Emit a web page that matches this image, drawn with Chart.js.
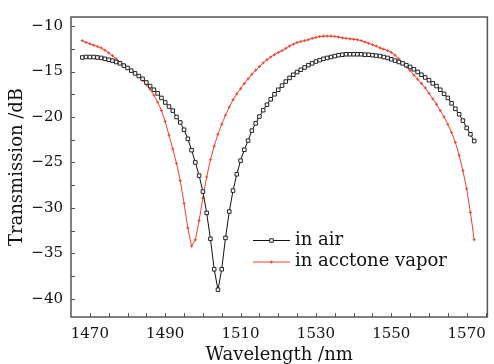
<!DOCTYPE html>
<html lang="en">
<head>
    <meta charset="UTF-8">
    <title>Transmission spectrum</title>
    <script src="https://cdn.jsdelivr.net/npm/chart.js@4.4.1/dist/chart.umd.js"></script>
    <style>
        html, body { margin: 0; padding: 0; background: #fff; }
        #wrap { width: 494px; height: 364px; }
    </style>
</head>
<body>
    <div id="wrap"><canvas id="chart" width="494" height="364"></canvas></div>

    <script>
        // wavelength in nm, one point per nm
        const wavelength = [
            1468, 1469, 1470, 1471, 1472, 1473, 1474, 1475, 1476, 1477,
            1478, 1479, 1480, 1481, 1482, 1483, 1484, 1485, 1486, 1487,
            1488, 1489, 1490, 1491, 1492, 1493, 1494, 1495, 1496, 1497,
            1498, 1499, 1500, 1501, 1502, 1503, 1504, 1505, 1506, 1507,
            1508, 1509, 1510, 1511, 1512, 1513, 1514, 1515, 1516, 1517,
            1518, 1519, 1520, 1521, 1522, 1523, 1524, 1525, 1526, 1527,
            1528, 1529, 1530, 1531, 1532, 1533, 1534, 1535, 1536, 1537,
            1538, 1539, 1540, 1541, 1542, 1543, 1544, 1545, 1546, 1547,
            1548, 1549, 1550, 1551, 1552, 1553, 1554, 1555, 1556, 1557,
            1558, 1559, 1560, 1561, 1562, 1563, 1564, 1565, 1566, 1567,
            1568, 1569, 1570, 1571, 1572
        ];

        // transmission in dB, in air
        const inAir = [
            -13.45, -13.4, -13.4, -13.4, -13.45, -13.5, -13.6, -13.7, -13.8, -13.95,
            -14.1, -14.35, -14.6, -14.9, -15.2, -15.5, -15.8, -16.2, -16.6, -17.0,
            -17.4, -17.9, -18.4, -18.85, -19.3, -20.0, -20.6, -21.4, -22.4, -23.65,
            -25.0, -26.45, -28.2, -30.55, -33.4, -36.75, -39.0, -36.75, -33.3, -30.4,
            -28.1, -26.3, -24.8, -23.6, -22.6, -21.5, -20.7, -19.95, -19.25, -18.65,
            -18.05, -17.5, -17.0, -16.55, -16.1, -15.7, -15.35, -15.05, -14.8, -14.55,
            -14.3, -14.1, -13.9, -13.75, -13.6, -13.5, -13.4, -13.3, -13.2, -13.15,
            -13.1, -13.1, -13.1, -13.1, -13.1, -13.15, -13.15, -13.2, -13.25, -13.3,
            -13.4, -13.5, -13.65, -13.8, -13.95, -14.1, -14.3, -14.5, -14.75, -15.05,
            -15.35, -15.65, -15.95, -16.3, -16.6, -17.0, -17.45, -17.9, -18.5, -19.1,
            -19.7, -20.4, -21.2, -21.9, -22.65
        ];

        // transmission in dB, in acetone vapor
        const inVapor = [
            -11.6, -11.8, -11.95, -12.1, -12.25, -12.4, -12.65, -12.95, -13.25, -13.6,
            -13.95, -14.25, -14.55, -14.85, -15.2, -15.55, -15.95, -16.45, -16.95, -17.6,
            -18.35, -19.3, -20.5, -22.0, -23.5, -25.1, -27.0, -29.5, -32.2, -34.2,
            -33.5, -31.4, -28.9, -26.6, -24.7, -23.2, -21.9, -20.8, -19.8, -18.9,
            -18.1, -17.45, -16.9, -16.3, -15.8, -15.3, -14.85, -14.45, -14.05, -13.7,
            -13.4, -13.15, -12.9, -12.7, -12.45, -12.2, -12.0, -11.8, -11.7, -11.6,
            -11.5, -11.35, -11.25, -11.15, -11.1, -11.1, -11.1, -11.15, -11.2, -11.3,
            -11.35, -11.4, -11.45, -11.5, -11.6, -11.75, -11.9, -12.05, -12.2, -12.4,
            -12.55, -12.7, -12.9, -13.2, -13.6, -14.05, -14.5, -14.9, -15.4, -15.85,
            -16.3, -16.8, -17.4, -18.0, -18.6, -19.3, -20.0, -20.8, -21.7, -22.8,
            -24.2, -25.9, -27.9, -30.5, -33.5
        ];

        const seriesLabels = ['in air', 'in acctone vapor'];

        const xTickLabels = [1470, 1490, 1510, 1530, 1550, 1570];
        const yTickLabels = [-10, -15, -20, -25, -30, -35, -40];
        // inward tick marks (labelled and unlabelled)
        const xTickMarks = [1470, 1475, 1480, 1485, 1490, 1495, 1500, 1505, 1510, 1515, 1520,
            1525, 1530, 1535, 1540, 1545, 1550, 1555, 1560, 1565, 1570, 1575];
        const yTickMarks = [-10, -12.5, -15, -17.5, -20, -22.5, -25, -27.5, -30, -32.5,
            -35, -37.5, -40];

        const serif = 'DejaVu Serif';
        const axisColor = '#555';

        // frame and inward ticks, drawn under the curves
        const frameTicks = {
            id: 'frameTicks',
            beforeDatasetsDraw(chart) {
                const { ctx, chartArea: a, scales: { x, y } } = chart;
                ctx.save();
                ctx.strokeStyle = axisColor;
                ctx.lineWidth = 1;
                ctx.beginPath();
                xTickMarks.forEach(v => {
                    const px = Math.round(x.getPixelForValue(v)) + 0.5;
                    ctx.moveTo(px, a.bottom);
                    ctx.lineTo(px, a.bottom - 4);
                });
                yTickMarks.forEach(v => {
                    const py = Math.round(y.getPixelForValue(v)) + 0.5;
                    ctx.moveTo(a.left, py);
                    ctx.lineTo(a.left + 4, py);
                });
                ctx.stroke();
                ctx.lineWidth = 1.5;
                ctx.strokeRect(a.left, a.top, a.right - a.left, a.bottom - a.top);
                ctx.restore();
            }
        };

        // legend inside the plot, below the dip
        const innerLegend = {
            id: 'innerLegend',
            afterDraw(chart) {
                const ctx = chart.ctx;
                const x0 = 253, x1 = 290, textX = 295;
                const rows = [240, 261.5];
                ctx.save();
                chart.data.datasets.forEach((ds, i) => {
                    const yy = rows[i];
                    ctx.strokeStyle = ds.borderColor;
                    ctx.lineWidth = 1;
                    ctx.beginPath();
                    ctx.moveTo(x0, yy + 0.5);
                    ctx.lineTo(x1, yy + 0.5);
                    ctx.stroke();
                    ctx.fillStyle = ds.pointBackgroundColor;
                    ctx.strokeStyle = ds.pointBorderColor;
                    ctx.lineWidth = ds.pointBorderWidth;
                    Chart.helpers.drawPoint(ctx, {
                        pointStyle: ds.pointStyle,
                        radius: ds.pointRadius,
                        rotation: 0,
                        borderWidth: ds.pointBorderWidth
                    }, (x0 + x1) / 2, yy + 0.5);
                    ctx.fillStyle = '#111';
                    ctx.font = '18px "' + serif + '"';
                    ctx.textBaseline = 'middle';
                    ctx.textAlign = 'left';
                    ctx.fillText(ds.label, textX, yy);
                });
                ctx.restore();
            }
        };

        const toPoints = vals => vals.map((v, i) => ({ x: wavelength[i], y: v }));

        new Chart(document.getElementById('chart'), {
            type: 'line',
            data: {
                datasets: [
                    {
                        label: seriesLabels[0],
                        data: toPoints(inAir),
                        borderColor: '#111',
                        borderWidth: 1,
                        pointStyle: 'rect',
                        pointRadius: 2.5,
                        pointBorderWidth: 1,
                        pointBorderColor: '#222',
                        pointBackgroundColor: '#fff',
                        tension: 0
                    },
                    {
                        label: seriesLabels[1],
                        data: toPoints(inVapor),
                        borderColor: '#f0412f',
                        borderWidth: 1,
                        pointStyle: 'cross',
                        pointRadius: 1.5,
                        pointBorderWidth: 1,
                        pointBorderColor: '#f0412f',
                        pointBackgroundColor: '#f0412f',
                        tension: 0
                    }
                ]
            },
            options: {
                responsive: false,
                animation: false,
                events: [],
                layout: { padding: { top: 11, right: 5, left: 0, bottom: 0 } },
                plugins: {
                    legend: { display: false },
                    tooltip: { enabled: false }
                },
                scales: {
                    x: {
                        type: 'linear',
                        min: 1465,
                        max: 1575.5,
                        grid: { display: false, drawTicks: false },
                        border: { display: false },
                        afterBuildTicks: s => { s.ticks = xTickLabels.map(v => ({ value: v })); },
                        afterFit: s => { s.height = 47; },
                        ticks: {
                            padding: 8,
                            color: '#111',
                            maxRotation: 0,
                            font: { family: serif, size: 15 },
                            callback: v => String(v)
                        },
                        title: {
                            display: true,
                            text: 'Wavelength /nm',
                            color: '#111',
                            padding: { top: 0, bottom: 0 },
                            font: { family: serif, size: 18, lineHeight: 1 }
                        }
                    },
                    y: {
                        type: 'linear',
                        min: -42,
                        max: -9,
                        grid: { display: false, drawTicks: false },
                        border: { display: false },
                        afterBuildTicks: s => { s.ticks = yTickLabels.map(v => ({ value: v })); },
                        afterFit: s => { s.width = 71; },
                        ticks: {
                            padding: 8,
                            color: '#111',
                            font: { family: serif, size: 15 },
                            callback: v => (v < 0 ? '\u2212' : '') + Math.abs(v)
                        },
                        title: {
                            display: true,
                            text: 'Transmission /dB',
                            color: '#111',
                            padding: { top: 8, bottom: 0 },
                            font: { family: serif, size: 18, lineHeight: 1 }
                        }
                    }
                }
            },
            plugins: [frameTicks, innerLegend]
        });
    </script>
</body>
</html>
